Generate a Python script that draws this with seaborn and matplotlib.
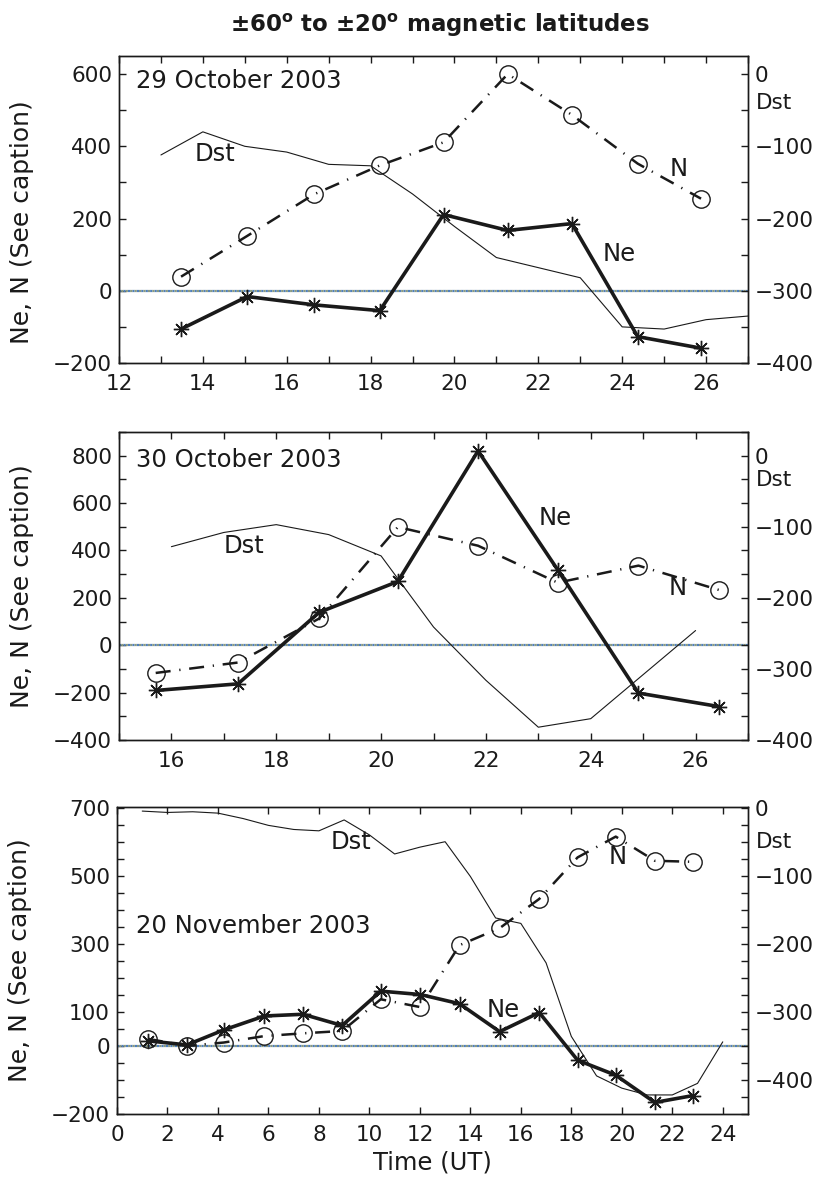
import numpy as np
import pandas as pd
import matplotlib
matplotlib.use("Agg")
import matplotlib.pyplot as plt
import seaborn as sns
from matplotlib.ticker import FixedLocator, NullFormatter

## Data
# 29 October 2003
oct29_time = [13.48, 15.06, 16.65, 18.22, 19.74, 21.27, 22.80, 24.37, 25.88]
oct29_ne = [-106, -16, -39, -55, 211, 167, 186, -127, -159]
oct29_n = [39, 152, 267, 347, 411, 600, 487, 352, 255]
oct29_dst_hour = [13, 14, 15, 16, 17, 18, 19, 20, 21, 22, 23, 24, 25, 26, 27]
oct29_dst = [-112, -80, -100, -108, -125, -127, -166, -211, -254, -268, -282, -350, -353, -340, -335]

# 30 October 2003
oct30_time = [15.70, 17.27, 18.82, 20.32, 21.85, 23.37, 24.91, 26.45]
oct30_ne = [-191, -163, 139, 269, 820, 318, -202, -259]
oct30_n = [-117, -73, 113, 499, 420, 264, 336, 233]
oct30_dst_hour = [16, 17, 18, 19, 20, 21, 22, 23, 24, 25, 26]
oct30_dst = [-128, -108, -97, -111, -141, -241, -316, -382, -370, -308, -246]

# 20 November 2003
nov20_time = [1.22, 2.77, 4.23, 5.84, 7.37, 8.92, 10.45, 12.02, 13.57, 15.16, 16.73, 18.25, 19.76, 21.31, 22.81]
nov20_ne = [15, 3, 47, 88, 93, 60, 161, 151, 124, 42, 98, -42, -86, -166, -146]
nov20_n = [21, 0, 10, 29, 37, 44, 137, 114, 296, 346, 432, 554, 615, 544, 541]
nov20_dst_hour = list(range(1, 25))
nov20_dst = [-5, -7, -6, -8, -16, -26, -32, -34, -18, -40, -68, -58, -50, -101,
             -162, -170, -228, -336, -394, -412, -422, -422, -405, -344]

dates = ["29 October 2003", "30 October 2003", "20 November 2003"]

## Style
sns.set_theme(style="ticks")
plt.rcParams["font.family"] = ["DejaVu Sans"]
plt.rcParams["axes.linewidth"] = 1.0
plt.rcParams["mathtext.fontset"] = "dejavusans"
for key in ["text.color", "axes.labelcolor", "xtick.color", "ytick.color", "axes.edgecolor"]:
    plt.rcParams[key] = "black"

fig = plt.figure(figsize=(8.15, 11.86), dpi=100)

# panel settings: axes rect (px), xlim, ticks, ylim, left labels, left tick step,
# Dst mapping (offset, scale), annotations
panels = [
    dict(rect=(119, 56, 748, 363), time=oct29_time, ne=oct29_ne, n=oct29_n,
         dst_hour=oct29_dst_hour, dst=oct29_dst, xlim=(12, 27), xmaj=np.arange(12, 27, 2),
         xmin=np.arange(12, 28, 1), ylim=(-200, 650), ylab=[-200, 0, 200, 400, 600],
         ystep=100, off=600, scale=2, date_pos=(0.027, 0.92), dst_lbl=0.847,
         notes=[("Dst", 14.3, 378), ("N", 25.35, 336), ("Ne", 23.92, 102)], ylab_y=0.46),
    dict(rect=(119, 432, 748, 740), time=oct30_time, ne=oct30_ne, n=oct30_n,
         dst_hour=oct30_dst_hour, dst=oct30_dst, xlim=(15, 27), xmaj=np.arange(16, 27, 2),
         xmin=np.arange(15, 28, 1), ylim=(-400, 900), ylab=[-400, -200, 0, 200, 400, 600, 800],
         ystep=100, off=800, scale=3, date_pos=(0.027, 0.908), dst_lbl=0.844,
         notes=[("Dst", 17.39, 417), ("Ne", 23.33, 537), ("N", 25.65, 240)], ylab_y=0.5),
    dict(rect=(117, 807, 748, 1114), time=nov20_time, ne=nov20_ne, n=nov20_n,
         dst_hour=nov20_dst_hour, dst=nov20_dst, xlim=(0, 25), xmaj=np.arange(0, 25, 2),
         xmin=np.arange(0, 26, 2), ylim=(-200, 702), ylab=[-200, 0, 100, 300, 500, 700],
         ystep=50, off=700, scale=2, date_pos=None, dst_lbl=0.887,
         notes=[("Dst", 9.27, 600), ("N", 19.83, 554), ("Ne", 15.32, 107),
                ("20 November 2003", 0.76, 351)], ylab_y=0.5),
]

W, H = 815, 1186
for i, p in enumerate(panels):
    x0, y0, x1, y1 = p["rect"]
    ax = fig.add_axes([x0 / W, 1 - y1 / H, (x1 - x0) / W, (y1 - y0) / H])
    ax2 = ax.twinx()

    df = pd.DataFrame({"time": p["time"], "Ne": p["ne"], "N": p["n"]})
    dst_df = pd.DataFrame({"hour": p["dst_hour"], "Dst": p["dst"]})

    # zero line (multicoloured dotted, like the original)
    ax.axhline(0, color="#4f7fbf", lw=1.6, ls=(0, (1, 1)), zorder=1)
    ax.axhline(0, color="#8a9a80", lw=1.6, ls=(1, (1, 1)), zorder=1)

    sns.lineplot(data=df, x="time", y="N", ax=ax, color="k", lw=1.8,
                 linestyle=(0, (6, 3.5, 0.5, 3.5)), marker="o", markersize=12.5,
                 markerfacecolor="none", markeredgecolor="k", markeredgewidth=1.0,
                 sort=False, estimator=None, zorder=3)
    sns.lineplot(data=df, x="time", y="Ne", ax=ax, color="k", lw=2.6,
                 marker=(8, 2, 0), markersize=11, markeredgecolor="k",
                 markeredgewidth=1.0, sort=False, estimator=None, zorder=4)
    sns.lineplot(data=dst_df, x="hour", y="Dst", ax=ax2, color="k", lw=0.8,
                 sort=False, estimator=None)

    ax.set_xlim(*p["xlim"])
    ax.set_ylim(*p["ylim"])
    off, scale = p["off"], p["scale"]
    ax2.set_ylim((p["ylim"][0] - off) / scale, (p["ylim"][1] - off) / scale)

    # left axis ticks
    yall = np.arange(p["ylim"][0], p["ylim"][1] + 1, p["ystep"])
    ax.yaxis.set_major_locator(FixedLocator(p["ylab"]))
    ax.yaxis.set_minor_locator(FixedLocator([v for v in yall if v not in p["ylab"]]))
    ax.xaxis.set_major_locator(FixedLocator(p["xmaj"]))
    ax.xaxis.set_minor_locator(FixedLocator([v for v in p["xmin"] if v not in p["xmaj"]]))
    ax.xaxis.set_minor_formatter(NullFormatter())

    # right axis ticks at the same positions as the left ones
    ax2.yaxis.set_major_locator(FixedLocator([0, -100, -200, -300, -400]))
    ax2.yaxis.set_minor_locator(FixedLocator([(v - off) / scale for v in yall]))
    ax2.yaxis.set_minor_formatter(NullFormatter())

    for a in (ax, ax2):
        a.tick_params(which="both", direction="in", length=5, width=1.0, labelsize=15.5,
                      color="k", labelcolor="k")
        for s in a.spines.values():
            s.set_visible(True)
            s.set_linewidth(1.0)
            s.set_color("k")
    ax.tick_params(which="both", top=True, right=False)
    ax.tick_params(axis="x", pad=8)
    ax.tick_params(axis="y", pad=5)
    ax2.tick_params(axis="y", pad=5)
    ax2.set_ylabel("")

    ax.set_ylabel("Ne, N (See caption)", fontsize=18, color="k")
    ax.yaxis.set_label_coords(-0.135, p["ylab_y"])
    if i == 2:
        ax.set_xlabel("Time (UT)", fontsize=17.5, labelpad=4, color="k")
    else:
        ax.set_xlabel("")

    ax2.text(1.012, p["dst_lbl"], "Dst", transform=ax2.transAxes, ha="left",
             va="center", fontsize=15.5, color="k")
    if p["date_pos"] is not None:
        ax.text(p["date_pos"][0], p["date_pos"][1], dates[i], transform=ax.transAxes,
                ha="left", va="center", fontsize=17.5, color="k")
    for txt, xx, yy in p["notes"]:
        if txt.startswith("20 "):
            ax.text(xx, yy, txt, ha="left", va="center", fontsize=17.5, color="k")
        else:
            ax.text(xx, yy, txt, ha="center", va="center", fontsize=17.5, color="k")

fig.text(440 / W, 1 - 25 / H, "±60$^{\\mathbf{o}}$ to ±20$^{\\mathbf{o}}$ magnetic latitudes",
         ha="center", va="center", fontsize=16.5, fontweight="bold", color="k")

fig.savefig("out.png", dpi=100)
